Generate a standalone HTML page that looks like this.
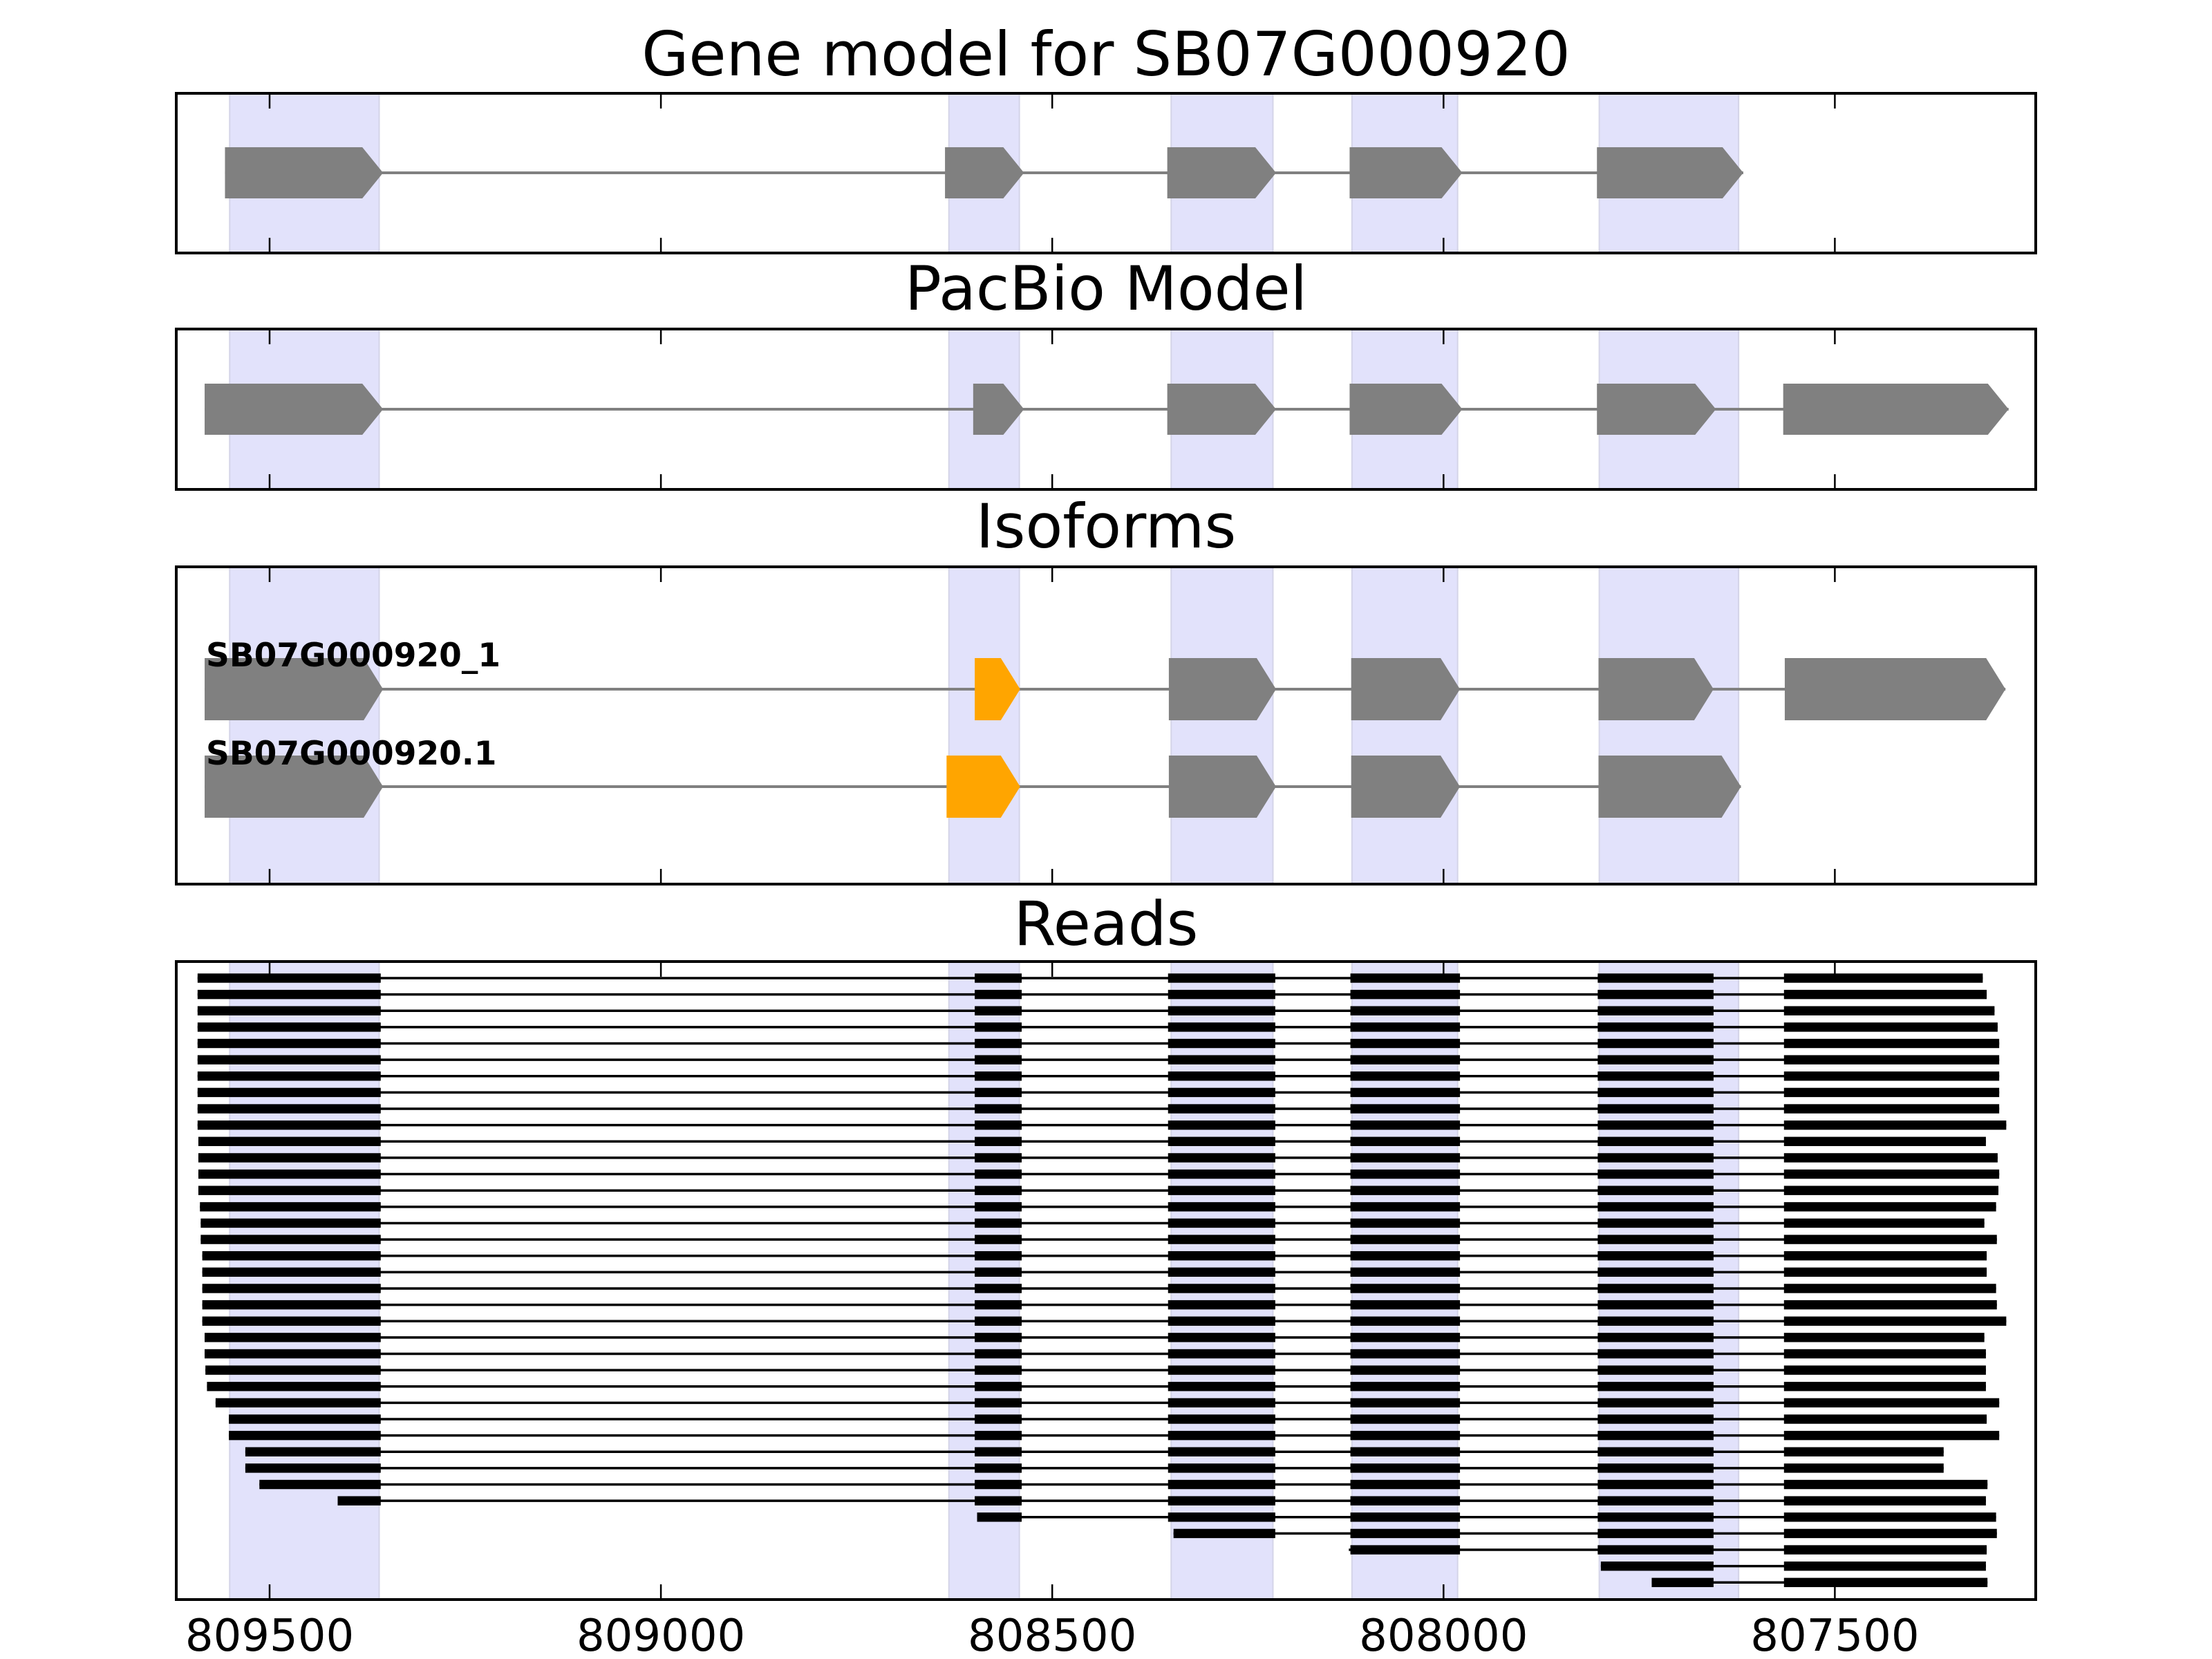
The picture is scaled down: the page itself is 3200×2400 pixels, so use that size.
<!DOCTYPE html>
<html><head><meta charset="utf-8"><style>
html,body{margin:0;padding:0;background:#fff;}
svg{display:block;}
text{font-family:"DejaVu Sans","Liberation Sans",sans-serif;}
</style></head>
<body>
<svg id="fig" width="3200" height="2400" viewBox="0 0 3200 2400" xmlns="http://www.w3.org/2000/svg">
<rect width="3200" height="2400" fill="#fff"/>
<g id="layer"></g>
</svg>
<script>
// ---- data ----
const tickValues = [809500, 809000, 808500, 808000, 807500];
const tickLabels = ["809500", "809000", "808500", "808000", "807500"];
const shadeStarts = [809551, 808632, 808348, 808117, 807801];
const shadeEnds   = [809360, 808542, 808218, 807982, 807623];
const geneExonStarts = [809557, 808637, 808353, 808120, 807804];
const geneExonEnds   = [809355, 808536, 808214, 807976, 807617];
const pacbioExonStarts = [809583, 808601, 808353, 808120, 807804, 807566];
const pacbioExonEnds   = [809355, 808536, 808214, 807976, 807652, 807278];
const isoNames = ["SB07G000920_1", "SB07G000920.1"];
const iso1Starts = [809583, 808599, 808351, 808118, 807802, 807564];
const iso1Ends   = [809355, 808541, 808214, 807979, 807655, 807282];
const iso1Orange = [false, true, false, false, false, false];
const iso2Starts = [809583, 808635, 808351, 808118, 807802];
const iso2Ends   = [809355, 808541, 808214, 807979, 807620];
const iso2Orange = [false, true, false, false, false];
const readExonStarts = [809700, 808599, 808352, 808119, 807803, 807565];
const readExonEnds   = [809358, 808539, 808215, 807979, 807655, 807100];
const readStarts = [809592,809592,809592,809592,809592,809592,809592,809592,809592,809592,
  809591,809591,809591,809591,809589,809588,809588,809586,809586,809586,
  809586,809586,809583,809583,809582,809580,809569,809552,809552,809531,
  809531,809513,809413,808596,808345,808121,807799,807734];
const readEnds = [807311,807306,807296,807292,807290,807290,807290,807290,807290,807281,
  807307,807292,807290,807291,807294,807309,807293,807306,807306,807294,
  807293,807281,807309,807307,807307,807307,807290,807306,807290,807361,
  807361,807305,807307,807294,807293,807306,807307,807305];

// ---- scales ----
const X0 = 390, PX = 1.1322;
function xs(v){ return X0 + (809500 - v) * PX; }
const AX_L = 255, AX_R = 2945;
const panels = [
  {name:"gene-model-panel", title:"Gene model for SB07G000920", top:135, bottom:366, tb:109},
  {name:"pacbio-panel", title:"PacBio Model", top:476, bottom:708, tb:448},
  {name:"isoforms-panel", title:"Isoforms", top:820, bottom:1279, tb:792},
  {name:"reads-panel", title:"Reads", top:1391, bottom:2314, tb:1367}
];
const NS = "http://www.w3.org/2000/svg";
const layer = document.getElementById("layer");
function el(tag, attrs, parent){
  const e = document.createElementNS(NS, tag);
  for (const k in attrs) e.setAttribute(k, attrs[k]);
  (parent||layer).appendChild(e);
  return e;
}
function arrowExon(g, xl, xr, cy, h, tip, fill, name){
  const t = Math.min(tip, Math.max(0, xr - xl));
  const p = el("polygon", {points:
    `${xl},${cy-h/2} ${xr-t},${cy-h/2} ${xr},${cy} ${xr-t},${cy+h/2} ${xl},${cy+h/2}`, fill:fill}, g);
  
  
}
function line(g, x1, x2, y, w, c, name){
  const l = el("line", {x1:x1, x2:x2, y1:y, y2:y, stroke:c, "stroke-width":w}, g);
  
  
}

panels.forEach((p, pi) => {
  const g = el("g", {});
  
  
  for (let i = 0; i < shadeStarts.length; i++){
    const a = xs(shadeStarts[i]), b = xs(shadeEnds[i]);
    const r = el("rect", {x:a, y:p.top, width:b-a, height:p.bottom-p.top, fill:"#e2e2fb", stroke:"#d4d4e8", "stroke-width":2}, g);
    
    
  }
  p.g = g;
  const t = el("text", {x:(AX_L+AX_R)/2, y:p.tb, "font-size":88, "text-anchor":"middle", fill:"#000"});
  t.textContent = p.title;
  
  
});

// gene model
(function(){
  const g = panels[0].g, cy = 250;
  line(g, xs(geneExonStarts[0]), xs(geneExonEnds[geneExonEnds.length-1]), cy, 4, "#808080", "gene-intron-line");
  for (let i = 0; i < geneExonStarts.length; i++)
    arrowExon(g, xs(geneExonStarts[i]), xs(geneExonEnds[i]), cy, 74, 30, "#808080", "gene-exon-" + (i+1));
})();
// pacbio
(function(){
  const g = panels[1].g, cy = 592;
  line(g, xs(pacbioExonStarts[0]), xs(pacbioExonEnds[pacbioExonEnds.length-1]), cy, 4, "#808080", "pacbio-intron-line");
  for (let i = 0; i < pacbioExonStarts.length; i++)
    arrowExon(g, xs(pacbioExonStarts[i]), xs(pacbioExonEnds[i]), cy, 74, 30, "#808080", "pacbio-exon-" + (i+1));
})();
// isoforms
(function(){
  const g = panels[2].g;
  const sets = [[iso1Starts, iso1Ends, iso1Orange, 997, 964], [iso2Starts, iso2Ends, iso2Orange, 1138, 1106]];
  sets.forEach((s, k) => {
    const [st, en, or, cy, tb] = s;
    line(g, xs(st[0]), xs(en[en.length-1]), cy, 4, "#808080", "isoform-" + (k+1) + "-intron-line");
    for (let i = 0; i < st.length; i++)
      arrowExon(g, xs(st[i]), xs(en[i]), cy, 90, 28, or[i] ? "#FFA500" : "#808080", "isoform-" + (k+1) + "-exon-" + (i+1));
    const t = el("text", {x:298, y:tb, "font-size":47, "font-weight":"bold", fill:"#000"}, g);
    t.textContent = isoNames[k];
    
    
  });
})();
// reads
(function(){
  const g = panels[3].g, y0 = 1415, dy = 23.63;
  for (let r = 0; r < readStarts.length; r++){
    const cy = y0 + r * dy, s = readStarts[r], e = readEnds[r];
    line(g, xs(s), xs(e), cy, 3.5, "#000", "read-" + (r+1) + "-intron");
    for (let i = 0; i < readExonStarts.length; i++){
      const a = Math.min(s, readExonStarts[i]), b = Math.max(e, readExonEnds[i]);
      if (a <= b) continue;
      const xa = xs(a), xb = xs(b);
      const rc = el("rect", {x:xa, y:cy-6.7, width:xb-xa, height:13.4, fill:"#000"}, g);
      
      
    }
  }
})();

// axes frames + ticks
panels.forEach((p, pi) => {
  const g = p.g;
  tickValues.forEach((v, i) => {
    const x = xs(v);
    const t1 = el("line", {x1:x, x2:x, y1:p.top, y2:p.top+22, stroke:"#000", "stroke-width":2.5}, g);
    
    
    const t2 = el("line", {x1:x, x2:x, y1:p.bottom, y2:p.bottom-22, stroke:"#000", "stroke-width":2.5}, g);
    
    
  });
  const fr = el("rect", {x:AX_L, y:p.top, width:AX_R-AX_L, height:p.bottom-p.top, fill:"none", stroke:"#000", "stroke-width":4}, g);
  
  
  if (pi === 3){
    tickValues.forEach((v, i) => {
      const t = el("text", {x:xs(v), y:2388, "font-size":64, "text-anchor":"middle", fill:"#000"}, g);
      t.textContent = tickLabels[i];
      
      
    });
  }
});
</script>
</body></html>
